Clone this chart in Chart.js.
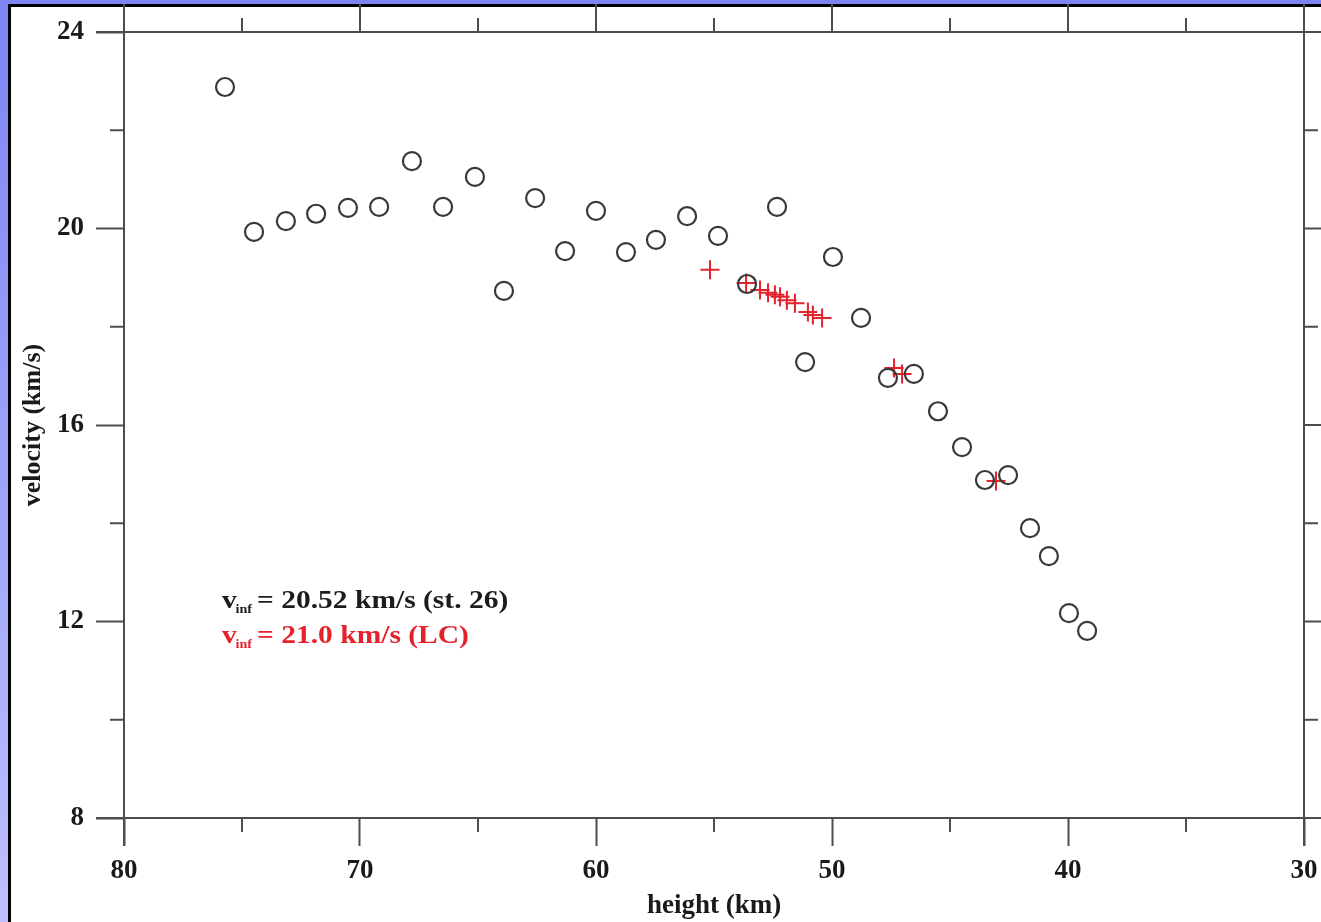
<!DOCTYPE html>
<html><head><meta charset="utf-8">
<script src="https://cdn.jsdelivr.net/npm/chart.js@4/dist/chart.umd.min.js"></script>
<style>html,body{margin:0;padding:0;background:#fff;overflow:hidden}canvas{display:block}</style>
</head><body>
<canvas id="c" width="1321" height="922"></canvas>
<script>
// Station 26 velocities (open circles)
const circleHeights = [75.72, 74.49, 73.14, 71.86, 70.51, 69.19, 67.80, 66.48, 65.13, 63.90, 62.58, 61.31, 60.00, 58.73, 57.46, 56.14, 54.83, 53.60, 52.33, 51.14, 49.96, 48.77, 47.63, 46.53, 45.51, 44.49, 43.52, 42.54, 41.61, 40.81, 39.96, 39.19];
const circleVelocities = [22.88, 19.93, 20.15, 20.30, 20.42, 20.44, 21.37, 20.44, 21.05, 18.73, 20.62, 19.54, 20.36, 19.52, 19.77, 20.25, 19.85, 18.87, 20.44, 17.28, 19.42, 18.18, 16.96, 17.04, 16.28, 15.55, 14.88, 14.98, 13.90, 13.33, 12.17, 11.81];
// LC velocities (red crosses)
const lcHeights = [55.17, 53.64, 53.05, 52.71, 52.42, 52.20, 51.91, 51.57, 51.02, 50.81, 50.42, 47.37, 47.03, 43.05];
const lcVelocities = [19.16, 18.89, 18.75, 18.69, 18.65, 18.61, 18.54, 18.48, 18.30, 18.24, 18.18, 17.16, 17.04, 14.86];

const xMajorTicks = [80, 70, 60, 50, 40, 30];
const xMinorTicks = [75, 65, 55, 45, 35];
const yMajorTicks = [24, 20, 16, 12, 8];
const yMinorTicks = [22, 18, 14, 10];

const xTitle = 'height (km)';
const yTitle = 'velocity (km/s)';
const annoLines = [
  {x: 75.85, y: 12.27, main: 'v', sub: 'inf', rest: ' = 20.52 km/s (st. 26)', color: '#1c1c1c'},
  {x: 75.85, y: 11.56, main: 'v', sub: 'inf', rest: ' = 21.0 km/s (LC)', color: '#e5222b'}
];

const FONT = "'Liberation Serif', 'Times New Roman', serif";
const LINE = '#4d4d4d';
const MAJOR = 28, MINOR = 14;

const toPts = (xs, ys) => xs.map((x, i) => ({x, y: ys[i]}));

const decor = {
  id: 'decor',
  beforeDraw(chart) {
    const ctx = chart.ctx, W = chart.width, H = chart.height;
    ctx.save();
    const g = ctx.createLinearGradient(0, 0, 0, H);
    g.addColorStop(0, '#7d84f3');
    g.addColorStop(1, '#bdc0ff');
    ctx.fillStyle = g;
    ctx.fillRect(0, 0, W, H);
    ctx.fillStyle = '#ffffff';
    ctx.fillRect(9, 5, W, H);
    ctx.strokeStyle = '#000';
    ctx.lineWidth = 3;
    ctx.beginPath();
    ctx.moveTo(9.5, H + 5); ctx.lineTo(9.5, 5.5); ctx.lineTo(W + 5, 5.5);
    ctx.stroke();
    ctx.restore();
  },
  afterDatasetsDraw(chart) {
    const ctx = chart.ctx, a = chart.chartArea;
    const xs = chart.scales.x, ys = chart.scales.y;
    ctx.save();
    ctx.strokeStyle = LINE;
    ctx.lineWidth = 2;
    ctx.beginPath();
    ctx.moveTo(a.left, a.top - MAJOR); ctx.lineTo(a.left, a.bottom + MAJOR);
    ctx.moveTo(a.right, a.top - MAJOR); ctx.lineTo(a.right, a.bottom + MAJOR);
    ctx.moveTo(a.left - MAJOR, a.top); ctx.lineTo(a.right + MAJOR, a.top);
    ctx.moveTo(a.left - MAJOR, a.bottom); ctx.lineTo(a.right + MAJOR, a.bottom);
    xMajorTicks.forEach(v => { const p = xs.getPixelForValue(v); ctx.moveTo(p, a.top); ctx.lineTo(p, a.top - MAJOR); });
    yMajorTicks.forEach(v => { const p = ys.getPixelForValue(v); ctx.moveTo(a.right, p); ctx.lineTo(a.right + MAJOR, p); });
    xMinorTicks.forEach(v => {
      const p = xs.getPixelForValue(v);
      ctx.moveTo(p, a.bottom); ctx.lineTo(p, a.bottom + MINOR);
      ctx.moveTo(p, a.top); ctx.lineTo(p, a.top - MINOR);
    });
    yMinorTicks.forEach(v => {
      const p = ys.getPixelForValue(v);
      ctx.moveTo(a.left, p); ctx.lineTo(a.left - MINOR, p);
      ctx.moveTo(a.right, p); ctx.lineTo(a.right + MINOR, p);
    });
    ctx.stroke();

    annoLines.forEach(l => {
      const px = xs.getPixelForValue(l.x), py = ys.getPixelForValue(l.y);
      ctx.save();
      ctx.translate(px, py);
      ctx.scale(1.18, 1);
      ctx.fillStyle = l.color;
      ctx.textBaseline = 'alphabetic';
      ctx.textAlign = 'left';
      ctx.font = 'bold 25px ' + FONT;
      ctx.fillText(l.main, 0, 0);
      const wv = ctx.measureText(l.main).width;
      ctx.font = 'bold 12px ' + FONT;
      ctx.fillText(l.sub, wv - 1, 5);
      const ws = ctx.measureText(l.sub).width;
      ctx.font = 'bold 25px ' + FONT;
      ctx.fillText(l.rest, wv + ws - 3, 0);
      ctx.restore();
    });
    ctx.restore();
  }
};

new Chart(document.getElementById('c'), {
  type: 'scatter',
  data: {
    datasets: [
      {
        label: 'st. 26',
        data: toPts(circleHeights, circleVelocities),
        pointStyle: 'circle',
        pointRadius: 9,
        pointHoverRadius: 9,
        borderColor: '#383838',
        backgroundColor: 'rgba(0,0,0,0)',
        borderWidth: 2.2
      },
      {
        label: 'LC',
        data: toPts(lcHeights, lcVelocities),
        pointStyle: 'cross',
        pointRadius: 9.5,
        pointHoverRadius: 9.5,
        borderColor: '#e5222b',
        backgroundColor: '#e5222b',
        borderWidth: 2
      }
    ]
  },
  options: {
    responsive: false,
    animation: false,
    events: [],
    layout: {padding: {top: 32, right: 17, left: 0, bottom: 0}},
    plugins: {legend: {display: false}, tooltip: {enabled: false}},
    scales: {
      x: {
        type: 'linear',
        reverse: true,
        min: 30, max: 80,
        afterBuildTicks: s => { s.ticks = xMajorTicks.map(v => ({value: v})); },
        afterFit: s => { s.height = 104; s.paddingLeft = 0; s.paddingRight = 0; },
        border: {display: false},
        grid: {drawOnChartArea: false, drawTicks: true, tickLength: MAJOR, tickColor: LINE, tickWidth: 2},
        ticks: {color: '#1a1a1a', padding: 9, maxRotation: 0, autoSkip: false,
          font: {family: FONT, size: 27, weight: 'bold'}},
        title: {display: true, text: xTitle, color: '#1a1a1a', padding: {top: 0, bottom: 0},
          font: {family: FONT, size: 27, weight: 'bold'}}
      },
      y: {
        type: 'linear',
        min: 8, max: 24,
        afterBuildTicks: s => { s.ticks = yMajorTicks.map(v => ({value: v})); },
        afterFit: s => { s.width = 124; s.paddingTop = 0; s.paddingBottom = 0; },
        border: {display: false},
        grid: {drawOnChartArea: false, drawTicks: true, tickLength: MAJOR, tickColor: LINE, tickWidth: 2},
        ticks: {color: '#1a1a1a', padding: 12, autoSkip: false,
          font: {family: FONT, size: 27, weight: 'bold'}},
        title: {display: true, text: yTitle, color: '#1a1a1a', padding: {top: 18, bottom: 0},
          font: {family: FONT, size: 26, weight: 'bold'}}
      }
    }
  },
  plugins: [decor]
});
</script>
</body></html>
